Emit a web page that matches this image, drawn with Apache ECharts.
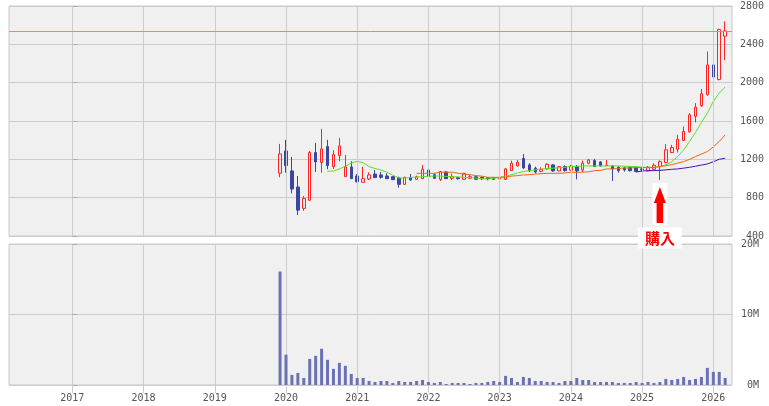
<!DOCTYPE html>
<html>
<head>
<meta charset="utf-8">
<script src="https://cdn.jsdelivr.net/npm/echarts@6/dist/echarts.min.js"></script>
<style>
html,body{margin:0;padding:0;background:#fff;}
#c{width:769px;height:406px;}
</style>
</head>
<body>
<div id="c"></div>
<script>
const months = ['2019-12',
 '2020-01','2020-02','2020-03','2020-04','2020-05','2020-06','2020-07','2020-08','2020-09','2020-10','2020-11','2020-12',
 '2021-01','2021-02','2021-03','2021-04','2021-05','2021-06','2021-07','2021-08','2021-09','2021-10','2021-11','2021-12',
 '2022-01','2022-02','2022-03','2022-04','2022-05','2022-06','2022-07','2022-08','2022-09','2022-10','2022-11','2022-12',
 '2023-01','2023-02','2023-03','2023-04','2023-05','2023-06','2023-07','2023-08','2023-09','2023-10','2023-11','2023-12',
 '2024-01','2024-02','2024-03','2024-04','2024-05','2024-06','2024-07','2024-08','2024-09','2024-10','2024-11','2024-12',
 '2025-01','2025-02','2025-03','2025-04','2025-05','2025-06','2025-07','2025-08','2025-09','2025-10','2025-11','2025-12',
 '2026-01','2026-02','2026-03'];
const opens = [1055,
 1288,1079,911,688,772,1271,1166,1333,1124,1239,1019,1121,
 1026,960,995,1047,1037,1026,1019,1005,939,1009,991,998,
 1089,1040,991,1068,1002,1009,991,1002,1019,1012,1009,1009,
 995,991,1082,1131,1210,1142,1107,1075,1100,1142,1079,1124,
 1086,1124,1089,1159,1187,1173,1135,1131,1117,1110,1114,1117,
 1100,1079,1096,1124,1166,1271,1305,1396,1487,1648,1759,1874,
 2185,2032,2485];
const closes = [1257,
 1135,890,670,793,1271,1173,1309,1135,1250,1340,1121,998,
 967,998,1037,1009,1012,998,988,939,1012,984,1019,1096,
 1019,1002,1072,998,1019,998,1054,1019,991,998,998,991,
 1000,1100,1159,1170,1110,1079,1068,1096,1149,1079,1124,1082,
 1131,1079,1159,1194,1124,1131,1140,1100,1082,1089,1082,1072,
 1090,1117,1138,1176,1299,1323,1410,1491,1665,1745,1885,2185,
 2059,2555,2540];
const lows = [1013,
 1061,845,618,663,772,1068,1061,1096,1100,1180,1019,998,
 960,957,985,1005,998,995,984,904,935,977,985,995,
 1012,998,974,995,984,988,991,998,988,984,981,988,
 981,988,1079,1124,1100,1068,1054,1065,1096,1070,1075,1072,
 1080,991,1068,1149,1120,1125,1131,974,1061,1072,1072,1070,
 1068,1079,1089,984,1159,1264,1271,1393,1480,1585,1745,1864,
 2004,2025,2234];
const highs = [1361,
 1403,1225,1026,817,1288,1372,1518,1403,1295,1424,1246,1180,
 1047,1121,1065,1089,1068,1054,1026,1019,1019,1047,1030,1142,
 1100,1054,1079,1079,1051,1019,1054,1040,1023,1019,1012,1012,
 1012,1110,1187,1194,1255,1160,1124,1117,1159,1150,1130,1138,
 1140,1142,1187,1205,1205,1180,1194,1138,1131,1124,1131,1120,
 1110,1131,1159,1190,1358,1351,1456,1543,1682,1787,1934,2325,
 2405,2562,2639];
// volume in millions of shares
const volumes = [16.1,
 4.3,1.43,1.71,1.0,3.7,4.14,5.14,3.57,2.29,3.14,2.71,1.57,
 1.0,1.0,0.57,0.43,0.57,0.57,0.29,0.57,0.43,0.43,0.57,0.71,
 0.43,0.29,0.43,0.14,0.29,0.29,0.29,0.14,0.29,0.29,0.43,0.57,
 0.43,1.29,1.0,0.43,1.14,1.0,0.57,0.57,0.43,0.43,0.29,0.57,
 0.57,1.0,0.71,0.71,0.43,0.43,0.43,0.43,0.29,0.29,0.29,0.43,
 0.29,0.43,0.29,0.43,0.86,0.71,0.86,1.14,0.71,0.86,1.14,2.43,
 1.86,1.86,1.0];
const maShort = [null,
 null,null,null,null,null,null,null,1075,1078,1100,1128,1160,
 1180,1165,1124,1105,1089,1065,1035,1005,1005,1010,1015,1019,
 1022,1026,1026,1022,1019,1016,1012,1009,1004,998,995,1000,
 1012,1025,1040,1058,1072,1082,1090,1098,1104,1107,1112,1118,
 1124,1128,1131,1131,1131,1131,1131,1131,1131,1128,1126,1124,
 1118,1116,1116,1124,1142,1175,1229,1299,1386,1480,1585,1682,
 1805,1892,1955];
const maMid = [null,
 null,null,null,null,null,null,null,null,null,null,null,null,
 null,null,null,null,null,null,null,null,null,null,1054,1054,
 1054,1054,1066,1066,1065,1055,1044,1040,1030,1025,1012,1012,
 1012,1015,1025,1030,1037,1040,1047,1050,1054,1054,1054,1058,
 1065,1065,1066,1070,1082,1085,1100,1100,1104,1110,1110,1114,
 1114,1114,1116,1124,1134,1145,1160,1176,1200,1229,1255,1281,
 1330,1386,1456];
const maLong = [null,
 null,null,null,null,null,null,null,null,null,null,null,null,
 null,null,null,null,null,null,null,null,null,null,null,null,
 null,null,null,null,null,null,null,null,null,null,null,null,
 null,null,null,null,null,null,null,null,null,null,null,null,
 null,null,null,null,null,null,null,null,null,null,null,1068,
 1078,1082,1082,1085,1090,1096,1100,1108,1117,1128,1140,1152,
 1175,1201,1211];
const yearLabels = ['2017','2018','2019','2020','2021','2022','2023','2024','2025','2026'];
const priceMin = 400, priceMax = 2800, priceStep = 400;
const volMax = 20, volStep = 10;
const lastPrice = 2540;
const buyMonth = '2025-04';
const buyText = '購入';

function monthX(s) {
  const p = s.split('-').map(Number);
  return (p[0] - Number(yearLabels[0])) * 12 + (p[1] - 1);
}
const yearTicks = yearLabels.map(y => monthX(y + '-01'));
const xs = months.map(monthX);
const candleData = xs.map((x, i) => [x, opens[i], closes[i], lows[i], highs[i]]);
const volData = xs.map((x, i) => [x, volumes[i]]);
const lineData = arr => xs.map((x, i) => [x, arr[i]]);

const axisFont = { fontFamily: 'DejaVu Sans Mono', fontSize: 10, color: '#555' };
const gridLineColor = '#cccccc';
const splitStyle = { show: true, lineStyle: { color: gridLineColor, width: 1 } };
const xMin = -10.67, xMax = 111.15;

const chart = echarts.init(document.getElementById('c'), null, { renderer: 'canvas' });
chart.setOption({
  animation: false,
  grid: [
    { left: 9, right: 37, top: 6, height: 230, show: true, backgroundColor: '#f0f0f0', borderColor: '#c8c8c8', borderWidth: 1 },
    { left: 9, right: 37, top: 244, height: 141, show: true, backgroundColor: '#f0f0f0', borderColor: '#c8c8c8', borderWidth: 1 }
  ],
  xAxis: [
    { type: 'value', gridIndex: 0, min: xMin, max: xMax, show: false },
    { type: 'value', gridIndex: 1, min: xMin, max: xMax, position: 'bottom',
      axisLine: { show: false },
      axisTick: { show: true, length: 8, customValues: yearTicks, lineStyle: { color: gridLineColor } },
      axisLabel: Object.assign({ show: true, margin: 8, customValues: yearTicks,
        formatter: v => String(Number(yearLabels[0]) + Math.round(v / 12)) }, axisFont),
      splitLine: splitStyle }
  ],
  yAxis: [
    { type: 'value', gridIndex: 0, position: 'right', min: priceMin, max: priceMax, interval: priceStep,
      axisLine: { show: false }, axisTick: { show: true, length: 5, lineStyle: { color: '#aaaaaa' } },
      axisLabel: Object.assign({ margin: 32, align: 'right', formatter: v => String(v) }, axisFont), splitLine: splitStyle },
    { type: 'value', gridIndex: 1, position: 'right', min: 0, max: volMax, interval: volStep,
      axisLine: { show: false }, axisTick: { show: true, length: 5, lineStyle: { color: '#aaaaaa' } },
      axisLabel: Object.assign({ margin: 27, align: 'right', formatter: v => v + 'M' }, axisFont), splitLine: splitStyle }
  ],
  series: [
    // year grid lines of the price panel
    { type: 'line', xAxisIndex: 0, yAxisIndex: 0, data: [], z: 1, silent: true,
      markLine: { silent: true, symbol: 'none', label: { show: false }, animation: false,
        lineStyle: { color: gridLineColor, width: 1, type: 'solid' },
        data: yearTicks.map(v => ({ xAxis: v })) } },
    { type: 'candlestick', xAxisIndex: 0, yAxisIndex: 0, data: candleData,
      encode: { x: 0, y: [1, 2, 3, 4] },
      barWidth: 3,
      itemStyle: { color: 'rgba(0,0,0,0)', color0: '#3c46a0', borderColor: '#ff2424', borderColor0: '#3c46a0', borderWidth: 1 },
      markLine: { silent: true, symbol: 'none', label: { show: false },
        lineStyle: { color: '#f08080', width: 1, type: 'solid' }, data: [{ yAxis: lastPrice }] },
      z: 3 },
    { type: 'line', xAxisIndex: 0, yAxisIndex: 0, data: lineData(maShort), showSymbol: false, symbol: 'none',
      lineStyle: { color: '#5fe01f', width: 1 }, z: 4 },
    { type: 'line', xAxisIndex: 0, yAxisIndex: 0, data: lineData(maMid), showSymbol: false, symbol: 'none',
      lineStyle: { color: '#ee6611', width: 1 }, z: 4 },
    { type: 'line', xAxisIndex: 0, yAxisIndex: 0, data: lineData(maLong), showSymbol: false, symbol: 'none',
      lineStyle: { color: '#4411bb', width: 1 }, z: 4 },
    { type: 'bar', xAxisIndex: 1, yAxisIndex: 1, data: volData, barWidth: 3,
      itemStyle: { color: '#6b72b4' } }
  ]
});

// buy annotation anchored to the low of the buy month's candle
const bi = months.indexOf(buyMonth);
const pt = chart.convertToPixel({ gridIndex: 0 }, [xs[bi], lows[bi]]);
const px = pt[0], py = pt[1];
chart.setOption({
  graphic: [
    { type: 'rect', shape: { x: px - 7.5, y: py + 3, width: 15, height: 42 }, style: { fill: '#ffffff' }, z: 100 },
    { type: 'polygon', shape: { points: [
        [px, py + 7], [px + 6, py + 23], [px + 3.3, py + 23], [px + 3.3, py + 43],
        [px - 3.3, py + 43], [px - 3.3, py + 23], [px - 6, py + 23]] },
      style: { fill: '#ff0000' }, z: 101 },
    { type: 'text', x: px, y: py + 58, z: 102,
      style: { text: buyText, align: 'center', verticalAlign: 'middle', fill: '#ff0000',
        font: 'bold 15px "Noto Sans CJK JP"', backgroundColor: '#ffffff', padding: [3, 7] } }
  ]
});
</script>
</body>
</html>
